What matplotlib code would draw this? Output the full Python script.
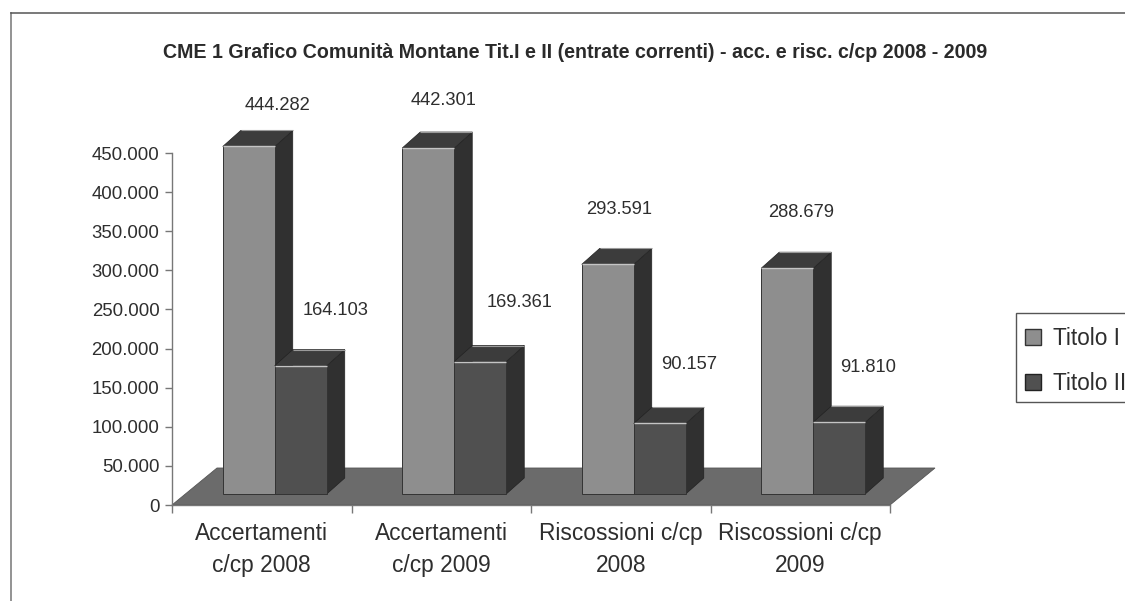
import matplotlib
matplotlib.use("Agg")
import matplotlib.pyplot as plt
from matplotlib.lines import Line2D
from matplotlib.patches import Patch, Polygon, Rectangle
from matplotlib.ticker import FuncFormatter

# ---- data ----
categories = ["Accertamenti\nc/cp 2008", "Accertamenti\nc/cp 2009",
              "Riscossioni c/cp\n2008", "Riscossioni c/cp\n2009"]
titolo_1 = [444282, 442301, 293591, 288679]
titolo_2 = [164103, 169361, 90157, 91810]
y_ticks = [0, 50000, 100000, 150000, 200000, 250000, 300000, 350000, 400000, 450000]
series_names = ["Titolo I", "Titolo II"]
title = "CME 1 Grafico Comunità Montane Tit.I e II (entrate correnti) - acc. e risc. c/cp 2008 - 2009"

# ---- style / layout (pixels of the 1125x601 canvas) ----
W, H = 1125, 601
AX_L, AX_R, AX_TOP, AX_BOTTOM = 172, 890, 153, 505
PX_X = (AX_R - AX_L) / len(categories)
PX_Y = (AX_BOTTOM - AX_TOP) / max(y_ticks)
C_LIGHT, C_DARK = "#8e8e8e", "#505050"
C_TOP, C_SIDE, C_FLOOR = "#3c3c3c", "#303030", "#6b6b6b"
C_TEXT, C_AXIS = "#2e2e2e", "#777777"
bar_w = 52 / PX_X
bar_shift = 13 / PX_X
base = 11 / PX_Y
depth_x, depth_y = 18 / PX_X, 16 / PX_Y
floor_x, floor_y = 45 / PX_X, 37 / PX_Y
# label offsets in pixels from the top centre of each front face
offs_1 = [(29, 41), (15, 48), (11, 55), (14, 56)]
offs_2 = [(35, 55), (39, 59), (29, 59), (29, 55)]

plt.rcParams["font.family"] = ["Liberation Sans", "DejaVu Sans"]
fig = plt.figure(figsize=(W / 100, H / 100), dpi=100, facecolor="white")
ax = fig.add_axes([AX_L / W, 1 - AX_BOTTOM / H, (AX_R - AX_L) / W, (AX_BOTTOM - AX_TOP) / H])
ax.set_xlim(0, len(categories))
ax.set_ylim(0, max(y_ticks))
ax.patch.set_alpha(0)

# floor
n = len(categories)
ax.add_patch(Polygon([(0, 0), (n, 0), (n + floor_x, floor_y), (floor_x, floor_y)],
                     closed=True, fc=C_FLOOR, ec="#555555", lw=0.6, zorder=1, clip_on=False))


def bar3d(left, value, colour, z):
    bottom, top = base, base + value
    right = left + bar_w
    ax.add_patch(Polygon([(right, bottom), (right + depth_x, bottom + depth_y),
                          (right + depth_x, top + depth_y), (right, top)],
                         closed=True, fc=C_SIDE, ec="#222222", lw=0.5, zorder=z, clip_on=False))
    ax.add_patch(Polygon([(left, top), (right, top), (right + depth_x, top + depth_y),
                          (left + depth_x, top + depth_y)],
                         closed=True, fc=C_TOP, ec="#222222", lw=0.5, zorder=z, clip_on=False))
    ax.bar(left, value, bar_w, bottom=bottom, align="edge", color=colour,
           edgecolor="#333333", lw=0.7, zorder=z + 0.1, clip_on=False)
    ax.plot([left, right], [top, top], color="#c4c4c4", lw=1.0, zorder=z + 0.2,
            clip_on=False, solid_capstyle="butt")
    ax.plot([left + depth_x, right + depth_x], [top + depth_y, top + depth_y], color="#9a9a9a",
            lw=0.8, zorder=z + 0.2, clip_on=False, solid_capstyle="butt")


def label(x, value, off):
    txt = f"{value:,}".replace(",", ".")
    ax.annotate(txt, xy=(x, base + value), xytext=(off[0] * 0.72, off[1] * 0.72),
                textcoords="offset points", ha="center", va="center",
                fontsize=13.2, color=C_TEXT, zorder=10, annotation_clip=False)


for i in range(n):
    left1 = i + 0.5 + bar_shift - bar_w
    left2 = i + 0.5 + bar_shift
    bar3d(left1, titolo_1[i], C_LIGHT, 3)
    bar3d(left2, titolo_2[i], C_DARK, 4)
    label(left1 + bar_w / 2, titolo_1[i], offs_1[i])
    label(left2 + bar_w / 2, titolo_2[i], offs_2[i])

# axes
for s in ("top", "right"):
    ax.spines[s].set_visible(False)
for s in ("left", "bottom"):
    ax.spines[s].set_color(C_AXIS)
    ax.spines[s].set_linewidth(1.0)
    ax.spines[s].set_zorder(2)
ax.set_yticks(y_ticks)
ax.yaxis.set_major_formatter(FuncFormatter(lambda v, _: f"{int(v):,}".replace(",", ".")))
ax.tick_params(axis="y", length=5, width=1, color=C_AXIS, labelsize=13.4, labelcolor=C_TEXT, pad=4)
ax.set_xticks(range(n + 1))
ax.set_xticklabels([])
ax.tick_params(axis="x", which="major", length=6, width=1, color=C_AXIS)
ax.set_xticks([i + 0.5 for i in range(n)], minor=True)
ax.set_xticklabels(categories, minor=True, fontsize=16.4, color=C_TEXT, linespacing=1.5)
ax.tick_params(axis="x", which="minor", length=0, pad=12)

# title
fig.text(575.5 / W, 1 - 52 / H, title, ha="center", va="center", fontsize=14.15, fontweight="bold", color="#2a2a2a")

# chart frame (scanned, runs off the right and lower edges)
fig.add_artist(Line2D([11 / W, 11 / W], [0, 1 - 13 / H], color="#8a8a8a", lw=1.3))
fig.add_artist(Line2D([11 / W, 1], [1 - 13 / H, 1 - 13 / H], color="#555555", lw=1.1))

# legend: frame runs off the right edge, as in the scan
fig.add_artist(Rectangle((1016 / W, 1 - 402 / H), 150 / W, 89 / H, transform=fig.transFigure,
                         fc="white", ec="#555555", lw=1.0, zorder=5))
handles = [Patch(fc=C_LIGHT, ec="#333333", lw=1), Patch(fc=C_DARK, ec="#222222", lw=1)]
leg = fig.legend(handles, series_names, loc="upper left",
                 bbox_to_anchor=(1016 / W, 1 - 318 / H), bbox_transform=fig.transFigure,
                 fontsize=16.3, frameon=False,
                 handlelength=0.72, handleheight=0.72, handletextpad=0.5,
                 labelspacing=0.96, borderaxespad=0, borderpad=0.4, labelcolor=C_TEXT)
leg.set_zorder(6)

fig.savefig("out.png", dpi=100)
